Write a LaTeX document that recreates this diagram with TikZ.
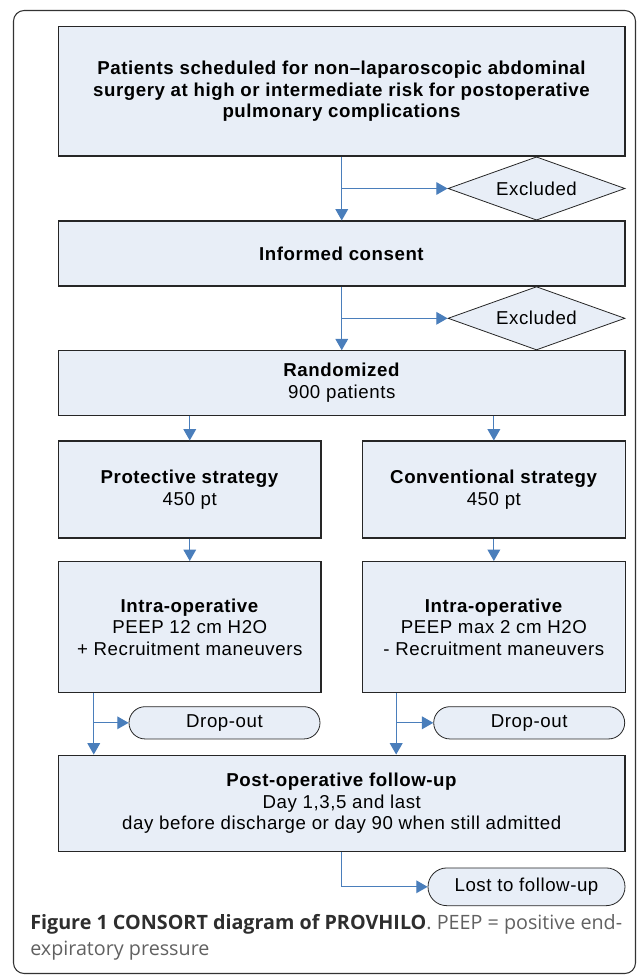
\documentclass[tikz,border=0pt]{standalone}
\usepackage{fontspec}
\setmainfont{Liberation Sans}[LetterSpace=3.0]
\newfontfamily\capfont{Open Sans}
\usetikzlibrary{positioning, arrows.meta, calc, shapes.geometric}
\definecolor{boxfill}{RGB}{232,238,247}
\definecolor{flowblue}{RGB}{74,126,187}

\begin{document}
\begin{tikzpicture}[
  x=0.75pt, y=-0.75pt,
  font=\fontsize{14}{16.2}\selectfont,
  stage/.style={draw=black!85, fill=boxfill, line width=0.8pt, align=center, inner sep=0pt},
  wide/.style={stage, minimum width=424.9pt},
  half/.style={stage, minimum width=196.9pt},
  excl/.style={diamond, draw=black!85, fill=boxfill, line width=0.6pt, aspect=2.8,
    inner sep=0pt, minimum width=132.75pt, minimum height=47.5pt},
  exitbox/.style={draw=black!85, fill=boxfill, line width=0.6pt, inner sep=0pt},
  flow/.style={-{Triangle[length=8.5pt, width=9.5pt]}, draw=flowblue, line width=0.9pt}
]
\useasboundingbox (0,0) rectangle (636,975);

% outer frame
\draw[black!80, line width=0.8pt, rounded corners=8pt] (13.5,10.5) rectangle (635.5,973.5);

% main column
\node[wide, minimum height=97pt] (pat) at (341.75,91.35)
  {\textbf{Patients scheduled for non–laparoscopic abdominal}\\
   \textbf{surgery at high or intermediate risk for postoperative}\\
   \textbf{pulmonary complications}};
\node[wide, minimum height=48.75pt] (consent) at (341.75,253.5) {\textbf{Informed consent}};
\node[wide, minimum height=48.2pt] (rand) at (341.75,382.9) {\textbf{Randomized}\\900 patients};

% exclusions
\node[excl] (excl1) at (536.5,188.5) {Excluded};
\node[excl] (excl2) at (536.5,318.3) {Excluded};

% the two arms
\node[half, minimum height=72.75pt] (prot) at (189.75,489.5) {\textbf{Protective strategy}\\450 pt};
\node[half, minimum height=72.75pt] (conv) at (493.85,489.5) {\textbf{Conventional strategy}\\450 pt};
\node[half, minimum height=98.4pt] (intraL) at (189.75,627.1)
  {\textbf{Intra-operative}\\PEEP 12 cm H2O\\+ Recruitment maneuvers};
\node[half, minimum height=98.4pt] (intraR) at (493.85,627.1)
  {\textbf{Intra-operative}\\PEEP max 2 cm H2O\\- Recruitment maneuvers};

% drop-outs
\node[exitbox, minimum width=143.25pt, minimum height=24.2pt, rounded corners=12.1pt] (drop1) at (224.5,722.8) {Drop-out};
\node[exitbox, minimum width=143.25pt, minimum height=24.2pt, rounded corners=12.1pt] (drop2) at (529.2,722.8) {Drop-out};

% follow-up
\node[wide, minimum height=72.5pt] (post) at (341.75,803.4)
  {\textbf{Post-operative follow-up}\\Day 1,3,5 and last\\day before discharge or day 90 when still admitted};
\node[exitbox, minimum width=147.75pt, minimum height=28.3pt, rounded corners=14.1pt] (lost) at (526.5,886.8) {Lost to follow-up};

% branch points
\coordinate (b1) at (pat.south |- excl1.west);
\coordinate (b2) at (consent.south |- excl2.west);
\coordinate (tl) at ([xshift=26.85pt]intraL.south west);
\coordinate (tr) at ([xshift=25.6pt]intraR.south west);

% connectors
\draw[flow] (pat.south) -- (consent.north);
\draw[flow] (b1) -- (excl1.west);
\draw[flow] (consent.south) -- (rand.north);
\draw[flow] (b2) -- (excl2.west);
\draw[flow] (rand.south -| prot.north) -- (prot.north);
\draw[flow] (rand.south -| conv.north) -- (conv.north);
\draw[flow] (prot) -- (intraL);
\draw[flow] (conv) -- (intraR);
\draw[flow] (tl) -- (tl |- post.north);
\draw[flow] (tl |- drop1.west) -- (drop1.west);
\draw[flow] (tr) -- (tr |- post.north);
\draw[flow] (tr |- drop2.west) -- (drop2.west);
\draw[flow] (post.south) |- (lost.west);

% caption
\node[anchor=north west, align=left, inner sep=0pt, text=black!62,
  font=\capfont\fontsize{14.8}{19}\selectfont] (caption) at (30,914.5)
  {{\bfseries\color{black!82}Figure 1 CONSORT diagram of PROVHILO}. PEEP = positive end-\\
   expiratory pressure};

\end{tikzpicture}
\end{document}
